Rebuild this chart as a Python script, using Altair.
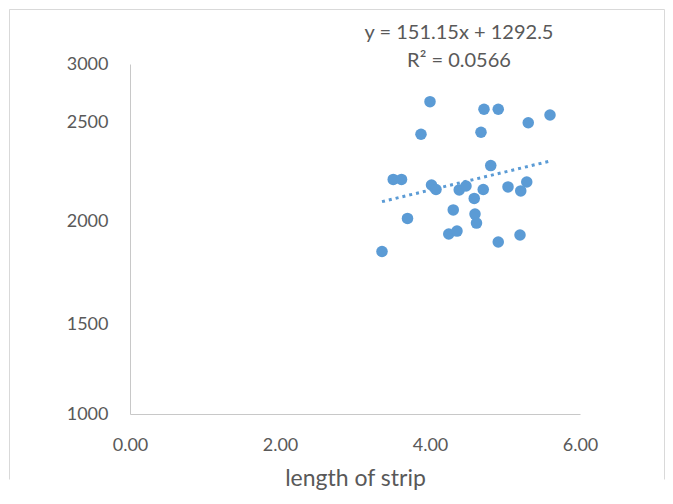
import altair as alt
import pandas as pd

# values
length = [4.00, 4.72, 4.91, 5.60, 5.31, 3.88, 4.68, 4.81, 3.51, 3.62,
          4.02, 4.08, 4.39, 4.48, 4.71, 4.59, 5.04, 5.29, 5.21, 4.31,
          3.70, 4.60, 4.62, 4.25, 4.36, 4.91, 5.20, 3.36]
value = [2675, 2610, 2610, 2560, 2496, 2438, 2448, 2280, 2210, 2210,
         2182, 2159, 2157, 2177, 2159, 2114, 2172, 2197, 2152, 2056,
         2013, 2035, 1990, 1937, 1951, 1898, 1932, 1852]
x_ticks = [0, 2, 4, 6]
y_ticks = [1000, 1500, 2000, 2500, 3000]
equation = ["y = 151.15x + 1292.5", "R² = 0.0566"]
x_title = "length of strip"

df = pd.DataFrame({"length": length, "value": value})

W, H = 655, 470
BLUE = "#5B9BD5"
TXT = "#595959"
AXC = "#C8C8C8"
FONT = "Lato"

xscale = alt.Scale(domain=[0, 6], range=[121, 571], nice=False, zero=False)
yscale = alt.Scale(domain=y_ticks, range=[405, 315, 212, 113, 55], nice=False, zero=False)

x_axis = alt.Axis(values=x_ticks, format=".2f", title=x_title, orient="bottom",
                  offset=-(H - 405), labelPadding=22, ticks=False, tickSize=0,
                  labelFlush=False, grid=False, domainColor=AXC,
                  titleY=53, titleBaseline="top")
y_axis = alt.Axis(values=y_ticks, format="d", title=None, orient="left",
                  offset=-121, labelPadding=22, ticks=False, tickSize=0,
                  labelFlush=False, grid=False, domainColor=AXC)

base = alt.Chart(df)
points = base.mark_circle(size=133, color=BLUE, opacity=1).encode(
    x=alt.X("length:Q", scale=xscale, axis=x_axis),
    y=alt.Y("value:Q", scale=yscale, axis=y_axis),
)
trend = base.transform_regression("length", "value").mark_line(
    color=BLUE, strokeWidth=3, strokeDash=[3, 4]
).encode(
    x=alt.X("length:Q", scale=xscale),
    y=alt.Y("value:Q", scale=yscale),
)

chart = alt.layer(points, trend).properties(
    width=W, height=H,
    title=alt.TitleParams(text=equation, font=FONT, fontSize=20, fontWeight="normal",
                          color=TXT, anchor="start", frame="group", dx=450,
                          align="center", offset=-62, baseline="top", lineHeight=28),
    padding={"left": 1, "top": 1, "right": 1, "bottom": 11},
    autosize="none",
).configure_view(
    stroke="#D9D9D9", strokeWidth=1, strokeDash=[W + H, W, H]
).configure_axis(
    labelFont=FONT, labelFontSize=18, labelColor=TXT,
    titleFont=FONT, titleFontSize=23, titleColor=TXT, titleFontWeight="normal",
    domainWidth=1,
)

chart.save("out.html", embed_options={"renderer": "svg", "actions": False})
